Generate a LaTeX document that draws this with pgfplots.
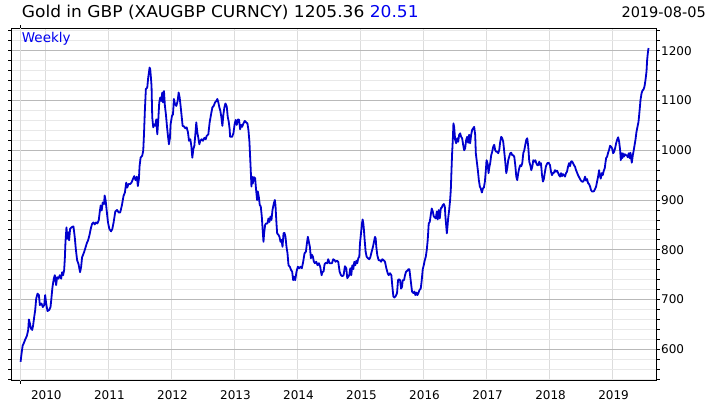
\documentclass[border=0pt]{standalone}
\usepackage{fontspec}
\setmainfont{DejaVu Sans}
\newfontfamily\titlefont[FakeStretch=1.045]{DejaVu Sans}
\usepackage{pgfplots}
\usepackage{pgfplotstable}
\pgfplotsset{compat=1.18}
\definecolor{lineblue}{RGB}{0,0,205}
\definecolor{txtblue}{RGB}{0,0,240}
\definecolor{majgrid}{RGB}{185,185,185}
\definecolor{mingrid}{RGB}{232,232,232}
\definecolor{xgrid}{RGB}{220,220,220}
\pgfplotstableread{
year value
2009.607 575
2009.623 592
2009.639 607
2009.660 613
2009.681 620
2009.707 627
2009.728 639
2009.739 660
2009.755 652
2009.771 642
2009.792 639
2009.807 649
2009.823 665
2009.839 679
2009.855 702
2009.876 712
2009.897 709
2009.913 689
2009.939 692
2009.960 685
2009.982 689
2009.997 709
2010.013 692
2010.034 677
2010.061 679
2010.082 685
2010.098 705
2010.113 725
2010.134 742
2010.150 749
2010.171 729
2010.187 745
2010.208 742
2010.229 749
2010.251 742
2010.266 755
2010.282 749
2010.298 759
2010.309 782
2010.319 815
2010.335 845
2010.351 822
2010.367 835
2010.377 819
2010.393 842
2010.414 845
2010.446 847
2010.467 825
2010.483 802
2010.504 779
2010.525 772
2010.551 755
2010.567 765
2010.583 785
2010.614 795
2010.636 804
2010.657 813
2010.678 819
2010.699 829
2010.720 842
2010.741 852
2010.762 855
2010.783 851
2010.804 855
2010.825 853
2010.847 859
2010.862 875
2010.878 889
2010.894 879
2010.910 895
2010.931 892
2010.941 909
2010.957 899
2010.973 879
2010.994 855
2011.015 842
2011.042 837
2011.063 842
2011.083 855
2011.110 877
2011.137 880
2011.163 875
2011.187 875
2011.214 889
2011.240 908
2011.262 915
2011.283 935
2011.299 925
2011.320 932
2011.346 932
2011.367 935
2011.389 942
2011.410 948
2011.431 940
2011.452 947
2011.468 928
2011.484 942
2011.495 968
2011.511 985
2011.537 989
2011.553 999
2011.564 1029
2011.580 1083
2011.595 1123
2011.617 1126
2011.632 1146
2011.643 1156
2011.654 1166
2011.664 1163
2011.675 1146
2011.685 1129
2011.696 1066
2011.712 1046
2011.728 1052
2011.744 1049
2011.760 1062
2011.776 1032
2011.791 1059
2011.807 1096
2011.823 1106
2011.839 1099
2011.855 1116
2011.866 1096
2011.882 1119
2011.897 1089
2011.913 1072
2011.929 1049
2011.945 1029
2011.961 1012
2011.977 1025
2011.987 1052
2012.009 1069
2012.025 1072
2012.040 1103
2012.056 1093
2012.078 1089
2012.099 1099
2012.115 1116
2012.131 1106
2012.146 1089
2012.162 1069
2012.178 1049
2012.199 1048
2012.221 1044
2012.242 1046
2012.263 1036
2012.279 1019
2012.300 1022
2012.316 1009
2012.332 985
2012.348 1002
2012.364 1009
2012.380 1032
2012.395 1056
2012.411 1036
2012.427 1025
2012.443 1012
2012.459 1019
2012.480 1022
2012.501 1019
2012.523 1025
2012.544 1022
2012.560 1029
2012.586 1032
2012.607 1056
2012.629 1072
2012.650 1086
2012.671 1089
2012.692 1096
2012.713 1099
2012.729 1103
2012.745 1096
2012.761 1086
2012.777 1079
2012.793 1066
2012.809 1049
2012.825 1072
2012.841 1086
2012.857 1094
2012.878 1088
2012.894 1067
2012.910 1057
2012.925 1041
2012.931 1027
2012.963 1027
2012.984 1034
2013.005 1054
2013.021 1061
2013.037 1051
2013.058 1062
2013.074 1061
2013.090 1042
2013.106 1051
2013.122 1047
2013.143 1054
2013.164 1059
2013.185 1056
2013.206 1054
2013.222 1041
2013.238 1017
2013.249 987
2013.259 960
2013.270 927
2013.280 947
2013.291 933
2013.307 946
2013.328 944
2013.344 920
2013.360 900
2013.371 917
2013.386 907
2013.402 890
2013.418 887
2013.434 867
2013.450 836
2013.461 816
2013.471 833
2013.487 850
2013.503 853
2013.524 853
2013.540 863
2013.556 856
2013.572 867
2013.588 860
2013.604 880
2013.625 893
2013.641 900
2013.651 890
2013.667 853
2013.678 833
2013.699 830
2013.715 826
2013.731 816
2013.747 820
2013.763 806
2013.779 833
2013.794 834
2013.810 826
2013.826 806
2013.842 793
2013.858 769
2013.879 766
2013.900 759
2013.916 756
2013.932 739
2013.948 746
2013.964 739
2013.985 756
2014.006 766
2014.028 763
2014.049 766
2014.070 763
2014.091 776
2014.112 793
2014.134 796
2014.150 813
2014.165 826
2014.181 816
2014.197 806
2014.213 783
2014.229 790
2014.245 786
2014.261 776
2014.277 773
2014.298 776
2014.319 769
2014.340 773
2014.361 766
2014.383 749
2014.398 756
2014.414 756
2014.430 771
2014.451 774
2014.473 773
2014.488 781
2014.510 773
2014.526 773
2014.547 773
2014.568 781
2014.589 779
2014.605 776
2014.626 778
2014.647 776
2014.669 756
2014.690 749
2014.711 747
2014.732 749
2014.753 767
2014.775 763
2014.790 743
2014.806 746
2014.822 749
2014.838 763
2014.854 749
2014.870 769
2014.886 761
2014.902 776
2014.918 769
2014.934 778
2014.949 773
2014.965 783
2014.981 786
2014.992 813
2015.008 833
2015.024 853
2015.034 861
2015.045 853
2015.055 840
2015.066 820
2015.082 796
2015.098 786
2015.119 783
2015.140 781
2015.156 785
2015.177 796
2015.198 806
2015.214 816
2015.230 826
2015.241 823
2015.251 806
2015.267 789
2015.288 779
2015.310 779
2015.326 776
2015.347 781
2015.368 779
2015.389 776
2015.410 763
2015.432 753
2015.447 749
2015.469 753
2015.490 749
2015.506 726
2015.522 706
2015.538 704
2015.559 707
2015.580 713
2015.596 739
2015.612 741
2015.628 739
2015.644 722
2015.660 726
2015.670 739
2015.691 739
2015.707 749
2015.723 756
2015.744 758
2015.760 761
2015.776 761
2015.787 749
2015.802 733
2015.818 716
2015.840 713
2015.855 716
2015.871 709
2015.887 714
2015.903 709
2015.919 713
2015.935 719
2015.956 722
2015.972 739
2015.988 761
2016.004 769
2016.020 779
2016.036 786
2016.052 800
2016.067 820
2016.083 853
2016.099 856
2016.115 870
2016.131 883
2016.147 877
2016.163 867
2016.179 865
2016.195 863
2016.211 877
2016.226 861
2016.242 880
2016.258 863
2016.274 883
2016.290 885
2016.306 890
2016.322 892
2016.338 887
2016.348 866
2016.359 850
2016.370 833
2016.380 846
2016.391 863
2016.407 880
2016.422 900
2016.433 920
2016.444 960
2016.454 994
2016.465 1021
2016.475 1054
2016.486 1047
2016.502 1021
2016.518 1014
2016.534 1024
2016.550 1017
2016.566 1031
2016.581 1034
2016.597 1027
2016.613 1024
2016.629 1011
2016.645 1000
2016.661 1004
2016.677 1021
2016.693 1027
2016.709 1015
2016.724 1031
2016.740 1014
2016.756 1031
2016.772 1041
2016.788 1044
2016.804 1047
2016.820 1031
2016.830 994
2016.846 977
2016.862 960
2016.878 940
2016.894 927
2016.910 923
2016.926 915
2016.942 923
2016.958 925
2016.974 937
2016.989 960
2017.000 980
2017.016 974
2017.032 954
2017.042 964
2017.058 974
2017.074 990
2017.090 997
2017.106 1007
2017.122 1011
2017.138 1000
2017.154 997
2017.170 997
2017.185 994
2017.201 1000
2017.217 1017
2017.233 1027
2017.249 1024
2017.265 1017
2017.281 997
2017.297 977
2017.313 954
2017.329 964
2017.344 980
2017.360 987
2017.376 994
2017.392 995
2017.408 990
2017.424 990
2017.440 987
2017.456 970
2017.472 947
2017.487 940
2017.503 954
2017.519 964
2017.535 970
2017.551 968
2017.567 974
2017.583 994
2017.599 1000
2017.615 1011
2017.631 1021
2017.646 1024
2017.662 1007
2017.678 977
2017.694 970
2017.710 960
2017.726 967
2017.742 980
2017.758 977
2017.774 980
2017.790 974
2017.805 970
2017.821 970
2017.837 977
2017.853 970
2017.864 974
2017.880 950
2017.895 937
2017.911 943
2017.927 957
2017.943 968
2017.964 974
2017.985 975
2018.007 970
2018.023 957
2018.038 950
2018.054 954
2018.070 955
2018.086 960
2018.102 957
2018.118 959
2018.134 955
2018.150 950
2018.166 947
2018.182 954
2018.197 948
2018.213 952
2018.229 950
2018.245 947
2018.261 954
2018.277 957
2018.293 967
2018.309 974
2018.325 968
2018.340 977
2018.356 978
2018.372 974
2018.388 970
2018.404 967
2018.420 960
2018.436 955
2018.452 950
2018.468 946
2018.484 942
2018.499 939
2018.515 937
2018.531 937
2018.547 940
2018.563 947
2018.579 939
2018.595 942
2018.611 934
2018.627 932
2018.643 927
2018.658 920
2018.674 917
2018.690 917
2018.706 918
2018.722 922
2018.738 927
2018.754 937
2018.770 947
2018.786 960
2018.796 950
2018.812 943
2018.828 954
2018.844 950
2018.860 959
2018.876 964
2018.886 974
2018.897 984
2018.913 987
2018.929 995
2018.945 1001
2018.960 1009
2018.976 1007
2018.992 1004
2019.008 994
2019.024 997
2019.040 1004
2019.056 1014
2019.072 1021
2019.088 1026
2019.104 1017
2019.119 1001
2019.130 980
2019.141 994
2019.151 984
2019.162 994
2019.178 987
2019.194 992
2019.209 990
2019.225 990
2019.241 986
2019.257 994
2019.273 984
2019.284 995
2019.294 984
2019.305 975
2019.321 990
2019.337 1001
2019.347 1009
2019.363 1021
2019.379 1037
2019.395 1047
2019.411 1057
2019.427 1078
2019.443 1101
2019.459 1114
2019.474 1120
2019.490 1122
2019.506 1128
2019.522 1141
2019.538 1158
2019.548 1181
2019.559 1195
2019.570 1205.36
}\golddata
\begin{document}
\begin{tikzpicture}
\useasboundingbox (0pt,0pt) rectangle (708pt,407pt);
\begin{axis}[
  at={(11pt,26.3pt)}, anchor=south west,
  scale only axis, width=645.7pt, height=352.4pt,
  xmin=2009.455, xmax=2019.70, ymin=537, ymax=1245,
  xtick={2010,2011,2012,2013,2014,2015,2016,2017,2018,2019},
  xticklabels={2010,2011,2012,2013,2014,2015,2016,2017,2018,2019},
  ytick={600,700,800,900,1000,1100,1200},
  minor ytick={540,560,...,1240},
  grid=both,
  major y grid style={majgrid, line width=0.8pt},
  minor y grid style={mingrid, line width=0.8pt},
  major x grid style={xgrid, line width=0.8pt},
  yticklabel pos=right,
  ytick pos=both,
  tick align=outside,
  major tick length=3pt, minor tick length=3pt,
  xtick style={draw=none},
  extra x ticks={2009.607}, extra x tick labels={},
  extra x tick style={xtick style={draw=black}, grid=major},
  axis line style={black, line width=0.8pt},
  ytick style={black, line width=0.8pt},
  every minor tick/.append style={black, line width=0.8pt},
  ticklabel style={font=\fontsize{12}{14}\selectfont},
  /pgf/number format/assume math mode=true,
  /pgf/number format/1000 sep={},
  yticklabel style={anchor=west, inner sep=0pt, xshift=1.3pt},
  xticklabel style={anchor=north, inner sep=0pt, yshift=-7pt, xshift=1pt},
  clip=true,
]
\addplot[lineblue, line width=1.8pt, line join=round, mark=none] table[x=year, y=value] {\golddata};
\end{axis}
\node[anchor=base west, inner sep=0pt, font=\titlefont\fontsize{16.3}{18}\selectfont] at (21.7pt,389.7pt) {Gold in GBP (XAUGBP CURNCY) 1205.36 \textcolor{txtblue}{20.51}};
\node[anchor=base east, inner sep=0pt, font=\fontsize{14.5}{16}\selectfont] at (706pt,389.7pt) {2019-08-05};
\node[anchor=base west, inner sep=0pt, text=txtblue, font=\fontsize{13.5}{16}\selectfont] at (21.7pt,364.3pt) {Weekly};
\end{tikzpicture}
\end{document}
